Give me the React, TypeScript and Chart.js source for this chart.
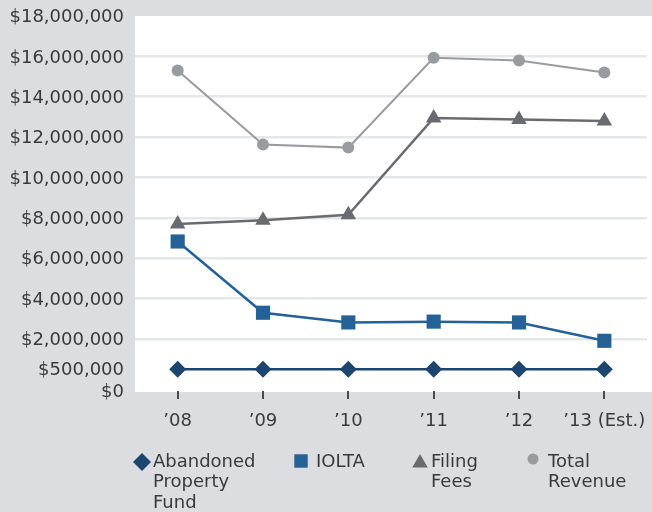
import React, { useEffect, useRef } from 'react';
import { Chart, LinearScale, registerables } from 'chart.js';
import { drawPoint } from 'chart.js/helpers';

// ---- data ----
const CATEGORIES = ['\u201908', '\u201909', '\u201910', '\u201911', '\u201912', '\u201913 (Est.)'];
const ABANDONED_PROPERTY = [500000, 500000, 500000, 500000, 500000, 500000];
const IOLTA = [6830000, 3300000, 2820000, 2860000, 2820000, 1910000];
const FILING_FEES = [7700000, 7880000, 8150000, 12950000, 12870000, 12800000];
const TOTAL_REVENUE = [15300000, 11630000, 11480000, 15930000, 15800000, 15200000];
const SERIES_NAMES = ['Abandoned Property Fund', 'IOLTA', 'Filing Fees', 'Total Revenue'];
const LEGEND_LINES = [['Abandoned', 'Property', 'Fund'], ['IOLTA'], ['Filing', 'Fees'], ['Total', 'Revenue']];
const Y_TICK_VALUES = [0, 500000, 2000000, 4000000, 6000000, 8000000, 10000000, 12000000, 14000000, 16000000, 18000000];
// axis segments (value breakpoints and the share of axis height they take)
const Y_BREAK_VALUES = [0, 500000, 2000000, 18000000];
const Y_BREAK_FRACTIONS = [0, 0.058, 0.1387, 1];

const FONT = "'DejaVu Sans', sans-serif";
const TEXT = '#3a3a3c';

class SegmentedScale extends LinearScale {
  static id = 'segmented';
  static defaults = { ...(LinearScale as any).defaults };
  valueToDecimal(v: number) {
    const vs = Y_BREAK_VALUES, fs = Y_BREAK_FRACTIONS;
    for (let i = 1; i < vs.length; i++) {
      if (v <= vs[i] || i === vs.length - 1) {
        return fs[i - 1] + ((v - vs[i - 1]) / (vs[i] - vs[i - 1])) * (fs[i] - fs[i - 1]);
      }
    }
    return 0;
  }
  getPixelForValue(value: any) {
    if (value === null || value === undefined) return NaN;
    return (this as any).getPixelForDecimal(this.valueToDecimal(+value));
  }
  getValueForPixel(pixel: number) {
    const d = (this as any).getDecimalForPixel(pixel);
    const vs = Y_BREAK_VALUES, fs = Y_BREAK_FRACTIONS;
    for (let i = 1; i < fs.length; i++) {
      if (d <= fs[i] || i === fs.length - 1) {
        return vs[i - 1] + ((d - fs[i - 1]) / (fs[i] - fs[i - 1])) * (vs[i] - vs[i - 1]);
      }
    }
    return 0;
  }
}

Chart.register(...registerables, SegmentedScale as any);

const backgroundPlugin = {
  id: 'bgPlugin',
  beforeDraw(chart: any) {
    const { ctx, chartArea, width, height } = chart;
    ctx.save();
    ctx.fillStyle = '#dcdde0';
    ctx.fillRect(0, 0, width, height);
    ctx.fillStyle = '#ffffff';
    ctx.fillRect(chartArea.left, chartArea.top, width - chartArea.left, chartArea.bottom - chartArea.top + 1);
    ctx.restore();
  },
};

const legendPlugin = {
  id: 'customLegend',
  afterDraw(chart: any, _args: any, opts: any) {
    const { ctx } = chart;
    ctx.save();
    ctx.font = `18px ${FONT}`;
    ctx.textBaseline = 'middle';
    ctx.textAlign = 'left';
    chart.data.datasets.forEach((ds: any, i: number) => {
      const mx = opts.markerX[i];
      const my = opts.markerY[i];
      ctx.fillStyle = ds.pointBackgroundColor;
      ctx.strokeStyle = ds.pointBackgroundColor;
      drawPoint(ctx, { pointStyle: ds.pointStyle, radius: opts.markerR[i], rotation: 0, borderWidth: 0 } as any, mx, my);
      ctx.fillStyle = TEXT;
      const lines = LEGEND_LINES[i];
      lines.forEach((ln, j) => {
        ctx.fillText(ln, opts.textX[i], opts.top + j * opts.lineHeight);
      });
    });
    ctx.restore();
  },
};

export default function App() {
  const ref = useRef<HTMLCanvasElement>(null);
  useEffect(() => {
    if (!ref.current) return;
    const mk = (label: string, data: number[], color: string, style: string, r: number, bw: number) => ({
      label,
      data,
      borderColor: color,
      backgroundColor: color,
      pointBackgroundColor: color,
      pointBorderColor: color,
      pointBorderWidth: 0,
      pointStyle: style,
      pointRadius: r,
      borderWidth: bw,
      tension: 0,
    });
    const chart = new Chart(ref.current, {
      type: 'line',
      data: {
        labels: CATEGORIES,
        datasets: [
          mk(SERIES_NAMES[0], ABANDONED_PROPERTY, '#1c4670', 'rectRot', 8.5, 2.5),
          mk(SERIES_NAMES[1], IOLTA, '#236196', 'rect', 10, 2.5),
          mk(SERIES_NAMES[2], FILING_FEES, '#6a6b6e', 'triangle', 9, 2.5),
          mk(SERIES_NAMES[3], TOTAL_REVENUE, '#9a9b9f', 'circle', 6, 2),
        ] as any,
      },
      options: {
        responsive: false,
        animation: false,
        devicePixelRatio: 1,
        layout: { autoPadding: false, padding: { top: 16, right: 5, bottom: 60, left: 0 } },
        plugins: {
          legend: { display: false },
          tooltip: { enabled: false },
          customLegend: {
            markerX: [142, 301, 420, 533],
            markerY: [462, 461, 463, 459],
            markerR: [9, 9.5, 9, 5.5],
            textX: [153, 316, 431, 548],
            top: 462,
            lineHeight: 20.5,
          },
        } as any,
        scales: {
          x: {
            type: 'category',
            offset: true,
            grid: { display: true, drawOnChartArea: false, drawTicks: true, tickLength: 8, color: '#4a4a4c', lineWidth: 2, offset: false },
            border: { display: false },
            ticks: { padding: 12, color: TEXT, font: { family: FONT, size: 18 }, maxRotation: 0, autoSkip: false },
            afterFit: (s: any) => { s.height = 61; s.paddingLeft = 0; s.paddingRight = 0; },
          },
          y: {
            type: 'segmented' as any,
            min: 0,
            max: 18000000,
            afterBuildTicks: (s: any) => { s.ticks = Y_TICK_VALUES.map((v) => ({ value: v })); },
            grid: {
              drawTicks: false,
              lineWidth: 2.5,
              color: (c: any) => {
                const v = c.tick ? c.tick.value : 0;
                return v >= 2000000 && v < 18000000 ? '#e6e7e9' : 'rgba(0,0,0,0)';
              },
            },
            border: { display: false },
            ticks: {
              autoSkip: false,
              padding: 11,
              labelOffset: 1.5,
              color: TEXT,
              font: { family: FONT, size: 18 },
              callback: (v: any) => '$' + Number(v).toLocaleString('en-US'),
            },
            afterFit: (s: any) => { s.width = 135; s.paddingTop = 0; s.paddingBottom = 0; },
          },
        } as any,
      },
      plugins: [backgroundPlugin, legendPlugin],
    });
    return () => chart.destroy();
  }, []);
  return (
    <div style={{ position: 'absolute', left: 0, top: 0, width: 652, height: 512 }}>
      <canvas ref={ref} width={652} height={512} style={{ display: 'block' }} />
    </div>
  );
}
